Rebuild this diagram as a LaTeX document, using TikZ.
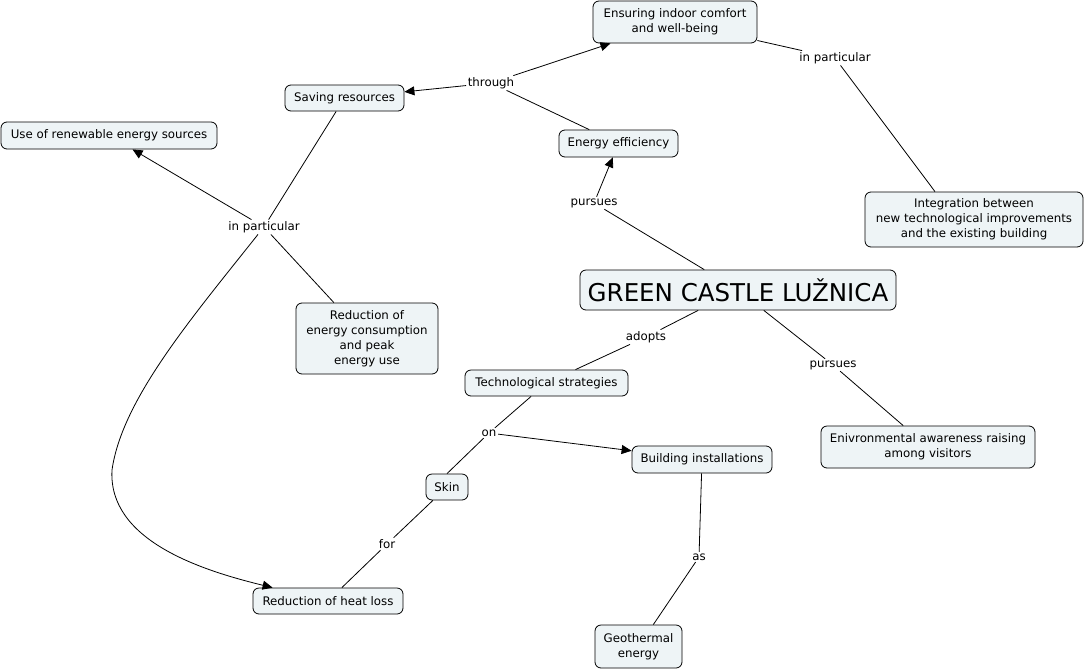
\documentclass[tikz,border=0pt]{standalone}
\usepackage{fontspec}
\setmainfont{DejaVu Sans}
\usetikzlibrary{arrows.meta}
\definecolor{boxfill}{RGB}{238,244,246}
\tikzset{
  concept/.style={draw=black, fill=boxfill, rounded corners=6pt, line width=0.8pt,
    align=center, inner sep=2pt, font=\fontsize{11.8}{15}\selectfont},
  lbl/.style={fill=white, inner sep=1.5pt, font=\fontsize{11.8}{14}\selectfont},
  conn/.style={line width=0.8pt},
  arr/.style={line width=0.8pt, -{Triangle[length=10pt,width=9pt]}},
}
\begin{document}
\begin{tikzpicture}[x=1pt,y=-1pt]
\useasboundingbox[fill=white] (0,0) rectangle (1085,670);
% concepts
\node[concept, minimum width=164pt, minimum height=42pt] (ens) at (675,22) {Ensuring indoor comfort\\and well-being};
\node[concept, minimum width=119pt, minimum height=26pt] (save) at (344.5,98) {Saving resources};
\node[concept, minimum width=119pt, minimum height=27pt] (ee) at (618.5,143.5) {Energy efficiency};
\node[concept, minimum width=216pt, minimum height=27pt] (use) at (109,135.5) {Use of renewable energy sources};
\node[concept, minimum width=218pt, minimum height=55pt] (intg) at (974,219.5) {Integration between\\new technological improvements\\and the existing building};
\node[concept, minimum width=316pt, minimum height=40pt, font=\fontsize{24.5}{27}\selectfont] (green) at (738,290) {GREEN CASTLE LUŽNICA};
\node[concept, minimum width=142pt, minimum height=71pt] (rede) at (367,338.5) {Reduction of\\energy consumption\\and peak\\energy use};
\node[concept, minimum width=163pt, minimum height=26pt] (tech) at (546.5,383) {Technological strategies};
\node[concept, minimum width=214pt, minimum height=42pt] (env) at (928,447) {Enivronmental awareness raising\\among visitors};
\node[concept, minimum width=140pt, minimum height=27pt] (bi) at (702,459.5) {Building installations};
\node[concept, minimum width=42pt, minimum height=26pt] (skin) at (447,487) {Skin};
\node[concept, minimum width=150pt, minimum height=26pt] (heat) at (328,601) {Reduction of heat loss};
\node[concept, minimum width=87pt, minimum height=43pt] (geo) at (638.5,646.5) {Geothermal\\energy};
% linking phrases
\node[lbl] (thr) at (491,83) {through};
\node[lbl] (ip1) at (835,58) {in particular};
\node[lbl] (pur1) at (594,203) {pursues};
\node[lbl] (ip2) at (264,227) {in particular};
\node[lbl] (adp) at (646,337) {adopts};
\node[lbl] (pur2) at (833,365) {pursues};
\node[lbl] (on) at (489,433) {on};
\node[lbl] (for) at (387,544) {for};
\node[lbl] (as) at (699,557) {as};
% connectors
\draw[conn] (ee) -- (thr);
\draw[arr] (thr) -- (ens);
\draw[arr] (thr) -- (save);
\draw[conn] (ens) -- (ip1);
\draw[conn] (ip1) -- ([xshift=-39pt]intg.north);
\draw[conn] (green) -- (pur1);
\draw[arr] (pur1) -- (ee);
\draw[conn] (save) -- (ip2);
\draw[arr] (ip2) -- (use);
\draw[conn] (ip2) -- (rede);
\draw[arr] ([xshift=-6pt]ip2.south) .. controls (190,320) and (122,400) .. (112,470)
  .. controls (108,540) and (200,570) .. ([xshift=20pt]heat.north west);
\draw[conn] (green) -- (adp);
\draw[conn] (adp) -- (tech);
\draw[conn] (green) -- (pur2);
\draw[conn] (pur2) -- (env);
\draw[conn] (tech) -- (on);
\draw[arr] (on) -- (bi);
\draw[conn] (on) -- (skin.north);
\draw[conn] (skin) -- (for);
\draw[conn] (for) -- (heat);
\draw[conn] (bi) -- (as);
\draw[conn] (as) -- (geo);
\end{tikzpicture}
\end{document}
